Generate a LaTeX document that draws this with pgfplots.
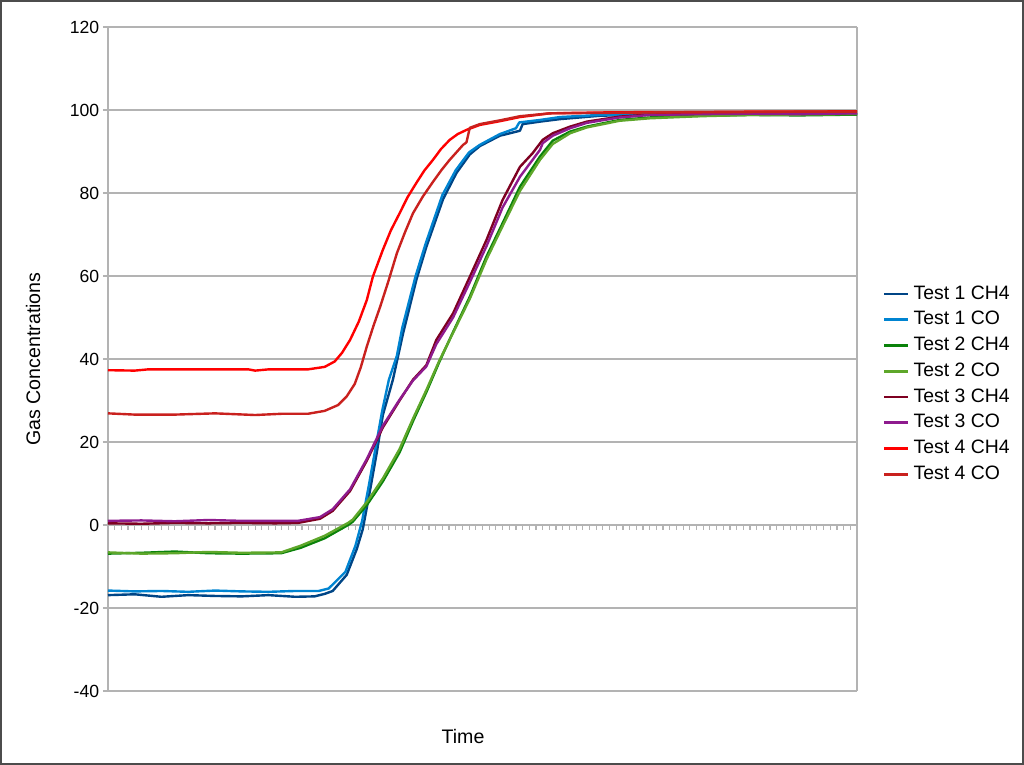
\documentclass[border=0pt]{standalone}
\usepackage{fontspec}
\setmainfont{Liberation Sans}
\usepackage{pgfplots}
\pgfplotsset{compat=1.18}
\definecolor{gridc}{HTML}{B3B3B3}
\definecolor{cA}{HTML}{004586}
\definecolor{cB}{HTML}{0084D1}
\definecolor{cC}{HTML}{0A820A}
\definecolor{cD}{HTML}{5EA72A}
\definecolor{cE}{HTML}{7E0021}
\definecolor{cF}{HTML}{8E1B8E}
\definecolor{cG}{HTML}{FF0000}
\definecolor{cH}{HTML}{C9211E}
\begin{document}
\begin{tikzpicture}
\useasboundingbox (0,0) rectangle (512pt,382.5pt);
\begin{axis}[
  at={(54pt,37pt)}, anchor=south west,
  scale only axis, width=374.5pt, height=332pt,
  xmin=0, xmax=112, ymin=-40, ymax=120,
  axis x line=middle, axis y line=left,
  axis line style={gridc, -, line width=0.6pt},
  hide obscured x ticks=false, hide obscured y ticks=false,
  xtick={0,1,...,112}, xticklabels={},
  ytick={-40,-20,0,20,40,60,80,100,120},
  tick align=outside, major tick length=2.5pt,
  tick style={gridc, line width=0.6pt},
  ymajorgrids, grid style={gridc, line width=0.6pt},
  /pgf/number format/assume math mode=true,
  tick label style={font=\fontsize{8.8}{10}\selectfont, black},
  yticklabel style={xshift=1.6pt},
  label style={font=\fontsize{9.8}{11}\selectfont},
  xlabel={Time},
  xlabel style={at={(axis description cs:0.474,0)}, anchor=north, yshift=-15.5pt},
  ylabel={Gas Concentrations},
  ylabel style={at={(axis description cs:-0.1001,0.5)}, anchor=center, rotate=0},
  legend style={draw=none, fill=none, at={(axis description cs:1.034,0.617)}, anchor=north west,
    font=\fontsize{9.7}{11}\selectfont, row sep=0.6pt, inner sep=0pt},
  legend cell align=left,
  legend image code/.code={\draw[#1, line width=1.4pt] (0pt,0pt) -- (12pt,0pt);},
  every axis plot/.append style={line width=1.2pt, line join=round},
  clip=false,
]
\draw[gridc, line width=0.6pt] (axis cs:112,-40) -- (axis cs:112,120);
% Test 1 CH4
\addplot[cA] coordinates {(0,-16.9) (4,-16.7) (8,-17.3) (12,-16.9) (16,-17.1) (20,-17.2) (24,-16.9) (28,-17.3) (30.9,-17.2) (32.4,-16.6) (33.6,-15.9) (35.7,-12.0) (37.2,-5.8) (38.1,-1.0) (39.2,8.5) (40.2,17.5) (41.1,26.5) (42.6,35) (44.1,46) (46.1,59) (47.6,67) (50.1,78.5) (52.1,84.8) (54.1,89.3) (55.6,91.3) (58.6,93.8) (61.6,95.0) (62.0,96.6) (64.6,97.2) (67.6,97.8) (73.5,98.6) (81,99.0) (88.5,99.1) (96,98.9) (103.4,99.0) (112,99.1)};
\addlegendentry{Test 1 CH4}
% Test 1 CO
\addplot[cB] coordinates {(0,-15.8) (4,-16.0) (8,-15.9) (12,-16.1) (16,-15.8) (20,-16.0) (24,-16.1) (28,-15.9) (31.5,-15.9) (33.0,-15.3) (35.5,-11.3) (37.0,-5.0) (38.0,1.0) (39.0,9.5) (40.0,18.5) (41.0,27.5) (42.0,35) (43.2,40.8) (44.0,47.5) (46.0,60) (47.5,67.8) (50.0,79.5) (52.0,85.5) (54.0,89.8) (55.6,91.6) (58.6,94.2) (61.0,95.6) (61.5,97.0) (64.6,97.6) (67.6,98.3) (73.5,98.8) (81,99.0) (88.5,99.0) (96,99.1) (103.4,99.0) (112,99.2)};
\addlegendentry{Test 1 CO}
% Test 2 CH4
\addplot[cC] coordinates {(0,-6.9) (5,-6.7) (10,-6.4) (15,-6.8) (20,-6.9) (25.9,-6.8) (28.8,-5.5) (32.4,-3.2) (35.9,0.0) (36.6,0.8) (38.7,4.8) (41.1,10.5) (43.6,17.5) (45.6,25) (47.6,32) (49.6,39.5) (51.6,46.5) (54.1,55) (56.6,64.7) (59.0,72.7) (61.6,81.5) (64.6,88.8) (66.5,92.6) (69.1,94.8) (71.6,96) (76.5,97.6) (81,98.2) (88.5,98.6) (96,98.8) (103.4,98.7) (112,98.9)};
\addlegendentry{Test 2 CH4}
% Test 2 CO
\addplot[cD] coordinates {(0,-6.6) (5,-6.9) (10,-6.8) (15,-6.5) (20,-6.7) (25.9,-6.6) (28.8,-5.0) (32.4,-2.6) (35.9,0.5) (36.6,1.3) (38.7,5.5) (41.1,11.2) (43.6,18.3) (45.6,25.6) (47.6,32.5) (49.6,39.8) (51.6,46.3) (54.1,54.5) (56.6,64.0) (59.0,72.0) (61.6,80.5) (64.6,88.0) (66.5,91.8) (69.1,94.4) (71.6,95.8) (76.5,97.4) (81,98.0) (88.5,98.5) (96,98.8) (103.4,98.9) (112,99.0)};
\addlegendentry{Test 2 CO}
% Test 3 CH4
\addplot[cE] coordinates {(0,0.4) (5,0.3) (10,0.5) (15,0.4) (20,0.5) (25,0.4) (28.4,0.5) (31.7,1.5) (33.6,3.4) (36.2,8.2) (38.7,15.5) (41.1,23.5) (43.6,30) (45.6,35) (47.6,38.5) (49.1,44.6) (51.6,51) (54.1,59.8) (56.6,68.7) (59,78.3) (61.6,86.3) (63.5,89.6) (65,92.8) (66.5,94.4) (69.1,96) (71.6,97.2) (76.5,98.4) (81,98.9) (88.5,99.1) (96,99.2) (103.4,99.1) (112,99.3)};
\addlegendentry{Test 3 CH4}
% Test 3 CO
\addplot[cF] coordinates {(0,1.0) (5,1.1) (10,0.9) (15,1.2) (20,1.0) (25,1.0) (28.4,1.0) (31.7,1.9) (33.6,3.8) (36.2,8.6) (38.7,15.9) (41.1,23.9) (43.6,30.2) (45.6,34.8) (47.6,38.2) (49.1,43.6) (51.6,50) (54.1,58.5) (56.6,67.2) (59,76.5) (61.6,83.9) (64.6,90.4) (65.0,92.0) (66.5,93.8) (69.1,95.6) (71.6,96.9) (76.5,98.2) (81,98.8) (88.5,99.0) (96,99.1) (103.4,99.0) (112,99.2)};
\addlegendentry{Test 3 CO}
% Test 4 CH4
\addplot[cG] coordinates {(0,37.3) (4,37.2) (6,37.5) (12,37.5) (18,37.5) (21,37.5) (22,37.2) (24,37.5) (29.9,37.5) (32.4,38.1) (33.9,39.4) (35.0,41.5) (36.2,44.6) (37.5,49) (38.7,54.2) (39.6,59.8) (41.1,66.3) (42.3,71) (43.6,75.1) (44.8,79) (46.1,82.4) (47.3,85.4) (48.6,88) (49.8,90.6) (51.1,92.8) (52.3,94.2) (53.6,95.2) (55.6,96.4) (58.6,97.3) (61.6,98.3) (66.1,99.2) (73.5,99.4) (81,99.5) (88.5,99.5) (96,99.6) (103.4,99.6) (112,99.7)};
\addlegendentry{Test 4 CH4}
% Test 4 CO
\addplot[cH] coordinates {(0,26.9) (4,26.6) (10,26.6) (16,26.9) (22,26.5) (26,26.8) (29.9,26.8) (32.4,27.5) (34.4,28.9) (35.7,31) (36.9,34) (37.8,38) (38.7,43) (39.7,48) (40.7,52.6) (41.9,58.6) (43.2,65.5) (44.4,70.5) (45.6,75.1) (47.1,79.2) (48.6,82.7) (49.9,85.6) (51.1,88) (53.1,91.6) (53.6,92.2) (54.1,95.7) (55.6,96.6) (58.6,97.5) (61.6,98.5) (66.1,99.2) (73.5,99.3) (81,99.4) (88.5,99.5) (96,99.5) (103.4,99.6) (112,99.6)};
\addlegendentry{Test 4 CO}
\end{axis}
\draw[black!70, line width=1pt] (0.5pt,0.5pt) rectangle (511.5pt,382pt);
\end{tikzpicture}
\end{document}
